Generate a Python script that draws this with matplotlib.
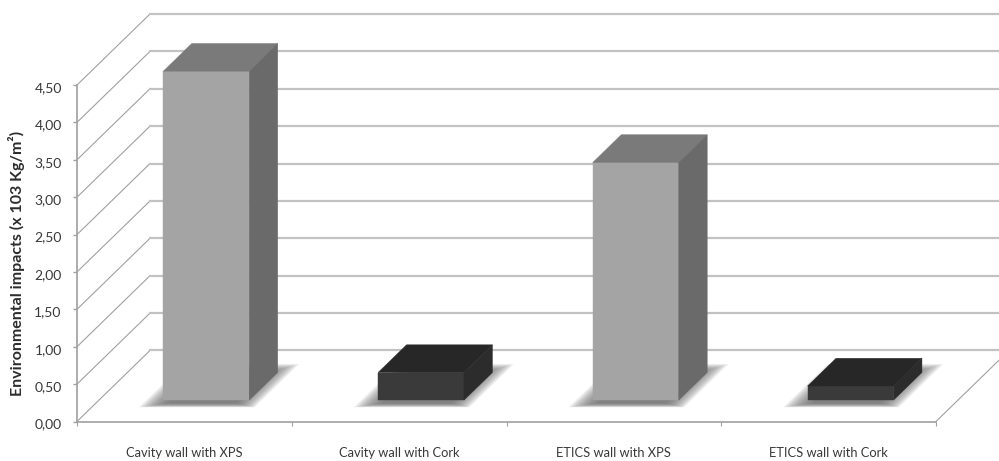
import matplotlib
matplotlib.use('Agg')
import matplotlib.pyplot as plt
from matplotlib.patches import Polygon
from matplotlib.transforms import ScaledTranslation

CATEGORIES = ['Cavity wall with XPS', 'Cavity wall with Cork',
              'ETICS wall with XPS', 'ETICS wall with Cork']
VALUES = [4.40, 0.37, 3.18, 0.19]
Y_TICKS = [0.0, 0.5, 1.0, 1.5, 2.0, 2.5, 3.0, 3.5, 4.0, 4.5]
Y_LABEL = 'Environmental impacts (x 103 Kg/m²)'

# pseudo 3D: how far one unit of depth shifts things on screen, in data units
DEPTH_X = 0.34
DEPTH_Y = 0.95
BAR_WIDTH = 0.40
BAR_FRONT = 0.30
BAR_BACK = 0.69

LIGHT = ('#a4a4a4', '#7a7a7a', '#6a6a6a')
DARK = ('#3a3a3a', '#272727', '#2c2c2c')
BAR_COLORS = [LIGHT, DARK, LIGHT, DARK]
GRID = '#c2c2c2'
WALL = '#a0a0a0'
TEXT = '#383838'
FONT = 'Lato'


def project(x, value, depth):
    return x + depth * DEPTH_X, value + depth * DEPTH_Y


def draw_walls(ax):
    for tick in Y_TICKS:
        ax.plot(*zip(project(0, tick, 0), project(0, tick, 1)),
                color=WALL, lw=0.8, zorder=1, clip_on=False)
        ax.plot(*zip(project(0, tick, 1), project(len(VALUES), tick, 1)),
                color=GRID, lw=1.6, zorder=1, clip_on=False)
    ax.plot(*zip(project(len(VALUES), 0, 0), project(len(VALUES), 0, 1)),
            color=WALL, lw=0.8, zorder=1, clip_on=False)


def draw_shadow(ax, i):
    # stacked see-through polygons give the soft edge
    steps = 24
    for s in range(steps):
        t = s / (steps - 1)
        x0 = i + 0.22 + 0.12 * t
        x1 = i + 0.76 - 0.11 * t
        d0 = 0.20 + 0.06 * t
        d1 = 0.81 - 0.14 * t
        pts = [project(x0, 0, d0), project(x1, 0, d0),
               project(x1, 0, d1), project(x0, 0, d1)]
        ax.add_patch(Polygon(pts, closed=True, facecolor='#6e6e6e', alpha=0.07,
                             edgecolor='none', zorder=2, clip_on=False))


def draw_bar(ax, i, value, colors):
    front, top, side = colors
    x0 = i + 0.5 - BAR_WIDTH / 2
    x1 = i + 0.5 + BAR_WIDTH / 2
    faces = [
        (front, [project(x0, 0, BAR_FRONT), project(x1, 0, BAR_FRONT),
                 project(x1, value, BAR_FRONT), project(x0, value, BAR_FRONT)]),
        (top, [project(x0, value, BAR_FRONT), project(x1, value, BAR_FRONT),
               project(x1, value, BAR_BACK), project(x0, value, BAR_BACK)]),
        (side, [project(x1, 0, BAR_FRONT), project(x1, 0, BAR_BACK),
                project(x1, value, BAR_BACK), project(x1, value, BAR_FRONT)]),
    ]
    for color, pts in faces:
        ax.add_patch(Polygon(pts, closed=True, facecolor=color, edgecolor=color,
                             lw=0.3, zorder=3, clip_on=False))


def main():
    fig = plt.figure(figsize=(9.99, 4.61), dpi=100)
    ax = fig.add_axes([77 / 999, (461 - 421.5) / 461,
                       (936 - 77) / 999, 336.5 / 461])
    ax.set_xlim(0, len(VALUES))
    ax.set_ylim(0, 4.5)
    ax.patch.set_visible(False)

    draw_walls(ax)
    for i, value in enumerate(VALUES):
        draw_shadow(ax, i)
        draw_bar(ax, i, value, BAR_COLORS[i])

    for side in ['top', 'right']:
        ax.spines[side].set_visible(False)
    for side in ['left', 'bottom']:
        ax.spines[side].set_color(WALL)
        ax.spines[side].set_linewidth(1.2)

    ax.set_yticks(Y_TICKS)
    ax.set_yticklabels([f'{t:.2f}'.replace('.', ',') for t in Y_TICKS],
                       fontsize=10, color=TEXT, family=FONT)
    ax.tick_params(axis='y', length=3, width=1, color=WALL, pad=8)
    # labels sit a little under their ticks in the original
    shift = ScaledTranslation(0, -1.5 / 72, fig.dpi_scale_trans)
    for label in ax.get_yticklabels():
        label.set_transform(label.get_transform() + shift)

    ax.set_xticks(range(len(VALUES) + 1))
    ax.set_xticklabels([])
    ax.tick_params(axis='x', length=3, width=0.8, color=WALL)
    ax.set_xticks([i + 0.5 for i in range(len(VALUES))], minor=True)
    ax.set_xticklabels(CATEGORIES, minor=True, fontsize=9.3, color=TEXT, family=FONT)
    ax.tick_params(axis='x', which='minor', length=0, pad=18.5)

    fig.text(17 / 999, 1 - 263 / 461, Y_LABEL, rotation=90, ha='center', va='center',
             fontsize=11.5, fontweight='bold', color='#2c2c2c', family=FONT)

    fig.savefig('out.png', dpi=100, facecolor='white')
    plt.close(fig)


if __name__ == "__main__":
    main()
